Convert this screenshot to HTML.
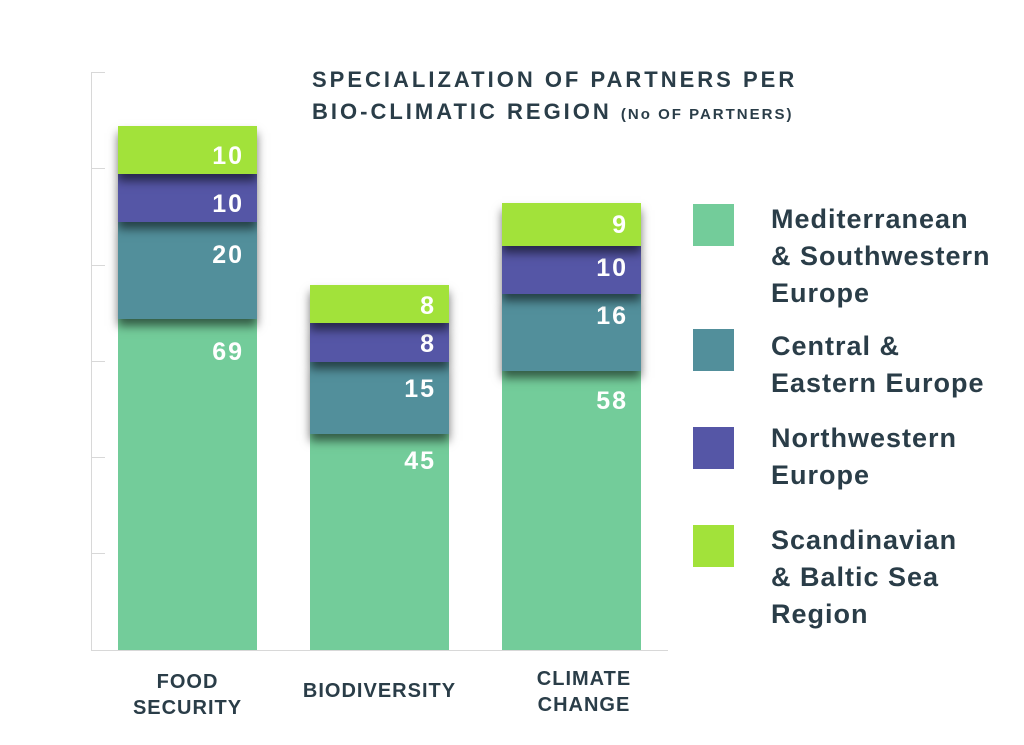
<!DOCTYPE html>
<html><head><meta charset="utf-8"><style>
body{margin:0;width:1024px;height:745px;background:#fff;position:relative;overflow:hidden;font-family:"Liberation Sans",sans-serif;color:#2a3d48}
.a{position:absolute}
.seg{position:absolute;left:0;width:139px}
.bar{position:absolute;width:139px}
.n{position:absolute;right:13px;color:#fff;font-weight:bold;font-size:25px;letter-spacing:2px;line-height:25px}
.sh{box-shadow:0 7px 9px rgba(0,0,0,.55)}
.m{background:#73cc9a}.t{background:#528f9b}.p{background:#5556a6}.l{background:#a2e23a}
.lg{position:absolute;left:771px;font-weight:bold;font-size:27px;line-height:37px;letter-spacing:1px}
.sw{position:absolute;left:693px;width:41px;height:42px}
.cat{position:absolute;font-weight:bold;font-size:20px;line-height:26px;text-align:center;letter-spacing:1px}
</style></head><body>
<div class="a" style="left:91px;top:72px;width:1px;height:579px;background:#d8d8d8"></div>
<div class="a" style="left:91px;top:650px;width:577px;height:1px;background:#d8d8d8"></div>
<div class="a" style="left:91px;top:72px;width:14px;height:1px;background:#d8d8d8"></div>
<div class="a" style="left:91px;top:168px;width:14px;height:1px;background:#d8d8d8"></div>
<div class="a" style="left:91px;top:265px;width:14px;height:1px;background:#d8d8d8"></div>
<div class="a" style="left:91px;top:361px;width:14px;height:1px;background:#d8d8d8"></div>
<div class="a" style="left:91px;top:457px;width:14px;height:1px;background:#d8d8d8"></div>
<div class="a" style="left:91px;top:553px;width:14px;height:1px;background:#d8d8d8"></div>

<div class="a" style="left:312px;top:64px;font-weight:bold;font-size:22px;line-height:32px;letter-spacing:3px;white-space:nowrap">SPECIALIZATION OF PARTNERS PER<br>BIO-CLIMATIC REGION <span style="font-size:15px;letter-spacing:2px">(No OF PARTNERS)</span></div>

<div class="bar" style="left:118px;top:126px">
<div class="seg m" style="top:193px;height:331px;z-index:1"><div class="n" style="top:21px">69</div></div>
<div class="seg t sh" style="top:96px;height:97px;z-index:2"><div class="n" style="top:21px">20</div></div>
<div class="seg p sh" style="top:48px;height:48px;z-index:3"><div class="n" style="top:18px">10</div></div>
<div class="seg l sh" style="top:0;height:48px;z-index:4"><div class="n" style="top:18px">10</div></div>
</div>

<div class="bar" style="left:310px;top:285px">
<div class="seg m" style="top:149px;height:216px;z-index:1"><div class="n" style="top:15px">45</div></div>
<div class="seg t sh" style="top:77px;height:72px;z-index:2"><div class="n" style="top:15px">15</div></div>
<div class="seg p sh" style="top:38px;height:39px;z-index:3"><div class="n" style="top:9px">8</div></div>
<div class="seg l sh" style="top:0;height:38px;z-index:4"><div class="n" style="top:9px">8</div></div>
</div>

<div class="bar" style="left:502px;top:203px">
<div class="seg m" style="top:168px;height:279px;z-index:1"><div class="n" style="top:18px">58</div></div>
<div class="seg t sh" style="top:91px;height:77px;z-index:2"><div class="n" style="top:10px">16</div></div>
<div class="seg p sh" style="top:43px;height:48px;z-index:3"><div class="n" style="top:10px">10</div></div>
<div class="seg l sh" style="top:0;height:43px;z-index:4"><div class="n" style="top:10px">9</div></div>
</div>

<div class="cat" style="left:118px;width:139px;top:669px">FOOD<br>SECURITY</div>
<div class="cat" style="left:290px;width:179px;top:678px">BIODIVERSITY</div>
<div class="cat" style="left:502px;width:164px;top:666px">CLIMATE<br>CHANGE</div>

<div class="sw m" style="top:204px"></div>
<div class="lg" style="top:201px">Mediterranean<br>&amp; Southwestern<br>Europe</div>
<div class="sw t" style="top:329px"></div>
<div class="lg" style="top:328px">Central &amp;<br>Eastern Europe</div>
<div class="sw p" style="top:427px"></div>
<div class="lg" style="top:420px">Northwestern<br>Europe</div>
<div class="sw l" style="top:525px"></div>
<div class="lg" style="top:522px">Scandinavian<br>&amp; Baltic Sea<br>Region</div>
</body></html>
